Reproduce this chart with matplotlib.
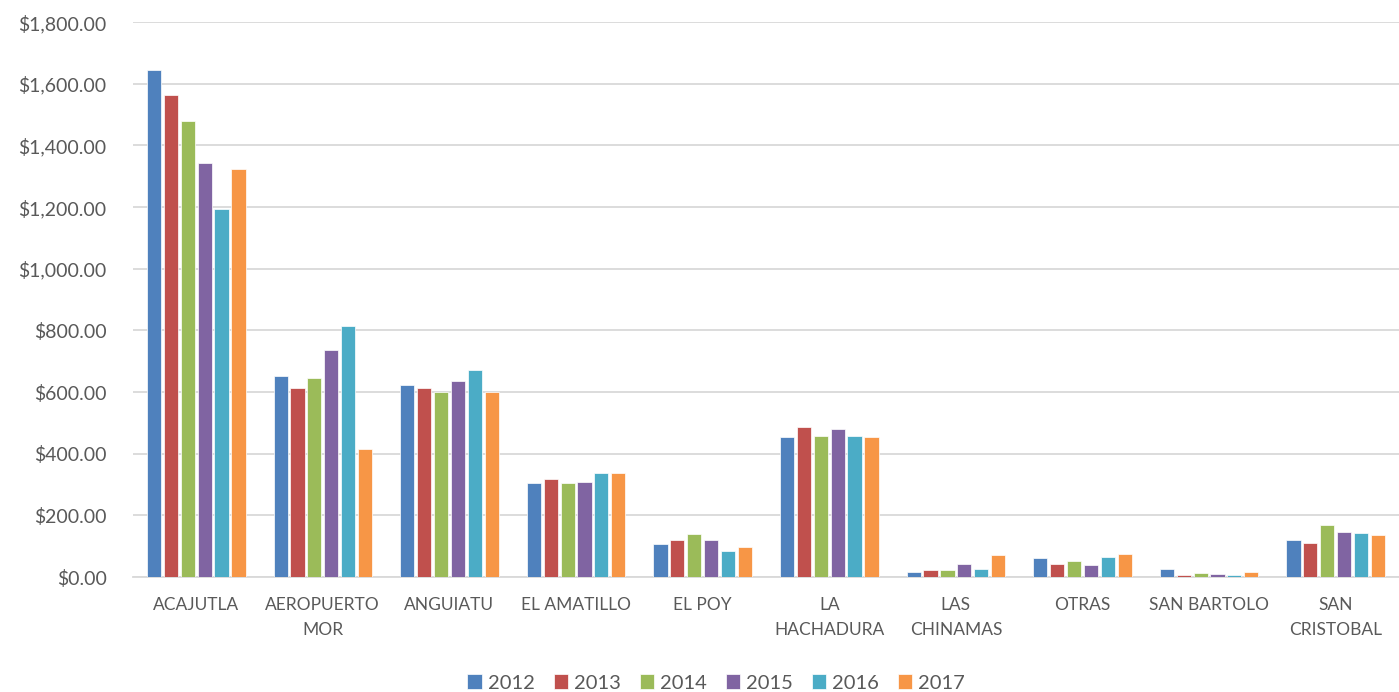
import numpy as np
import matplotlib.pyplot as plt

plt.rcParams['font.family'] = ['Lato', 'DejaVu Sans']

categorias = ["ACAJUTLA", "AEROPUERTO\nMOR", "ANGUIATU", "EL AMATILLO", "EL POY",
              "LA\nHACHADURA", "LAS\nCHINAMAS", "OTRAS", "SAN BARTOLO", "SAN\nCRISTOBAL"]
anios = ["2012", "2013", "2014", "2015", "2016", "2017"]

v2012 = [1645, 651, 622, 304, 107, 453, 17, 63, 27, 120]
v2013 = [1565, 615, 615, 318, 122, 488, 23, 44, 8, 110]
v2014 = [1478, 646, 600, 305, 140, 458, 23, 53, 14, 169]
v2015 = [1344, 738, 635, 309, 119, 482, 43, 39, 10, 147]
v2016 = [1193, 814, 671, 338, 84, 457, 27, 66, 8, 144]
v2017 = [1323, 414, 602, 339, 97, 455, 71, 76, 17, 137]
series = [v2012, v2013, v2014, v2015, v2016, v2017]
colores = ["#4F81BD", "#C0504D", "#9BBB59", "#8064A2", "#4BACC6", "#F79646"]

fig = plt.figure(figsize=(13.99, 6.92), dpi=100)
ax = fig.add_axes([0.095, 0.166, 0.905, 0.802])

x = np.arange(len(categorias))
slot = 0.8 / len(series)
for i, (vals, c, a) in enumerate(zip(series, colores, anios)):
    ax.bar(x - 0.4 + slot * (i + 0.5), vals, width=slot * 0.84, color=c,
           edgecolor="white", linewidth=0.5, label=a, zorder=3)

ax.set_xlim(-0.5, len(categorias) - 0.5)
ax.set_ylim(0, 1800)
ax.set_yticks(np.arange(0, 1801, 200))
ax.set_yticklabels(["${:,.2f}".format(v) for v in np.arange(0, 1801, 200)])
ax.set_xticks(x)
ax.set_xticklabels(categorias, linespacing=1.7)
ax.grid(axis="y", color="#D9D9D9", linewidth=1.3, zorder=0)
for s in ["top", "right", "left"]:
    ax.spines[s].set_visible(False)
ax.spines["bottom"].set_color("#D9D9D9")
ax.spines["bottom"].set_linewidth(1.3)
ax.tick_params(axis="both", length=0, colors="#595959")
ax.tick_params(axis="y", labelsize=14, pad=19)
ax.tick_params(axis="x", labelsize=12.5, pad=14)

fig.legend(*ax.get_legend_handles_labels(), loc="center", bbox_to_anchor=(0.512, 0.013),
           ncol=6, frameon=False, fontsize=14.5, handlelength=0.7, handleheight=0.7,
           handletextpad=0.3, columnspacing=0.95, labelcolor="#595959")

fig.savefig("out.png", dpi=100)
